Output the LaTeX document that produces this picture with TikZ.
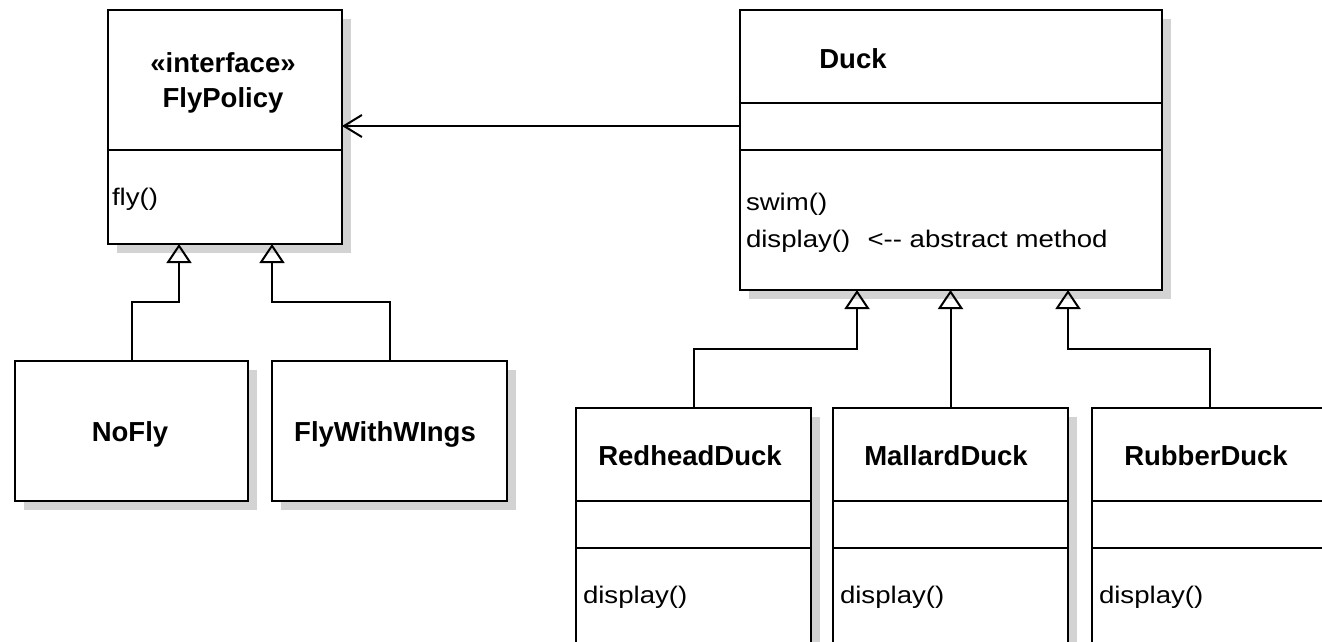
\documentclass[tikz,border=0pt]{standalone}
\usepackage{fontspec}
\setmainfont{Liberation Sans}
\usetikzlibrary{arrows.meta,shadows}
\definecolor{shadowgray}{HTML}{D3D3D3}
\begin{document}
\begin{tikzpicture}[x=1pt,y=-1pt,line width=2pt,
  classbox/.style={draw, fill=white, rectangle, anchor=north west, inner sep=0pt, outer sep=0pt,
    general shadow={fill=shadowgray, shadow xshift=9pt, shadow yshift=-9pt}},
  title/.style={font=\bfseries\fontsize{27.5}{33}\selectfont, anchor=base, inner sep=0pt},
  member/.style={font=\fontsize{24}{29}\selectfont, anchor=base west, inner sep=0pt},
  inherit/.style={-{Triangle[open, length=19pt, width=25pt]}},
  uses/.style={-{Straight Barb[length=18pt, width=22pt]}},
]
\useasboundingbox (0,0) rectangle (1322,642);
\clip (0,0) rectangle (1322,642);
\fill[white] (0,0) rectangle (1322,642);

% Strategy interface and its implementations
\node[classbox, minimum width=234pt, minimum height=234pt] (fp) at (108,10) {};
\draw (fp.west |- 0,150) -- (fp.east |- 0,150);
\node[title] (fpst) at (223,73) {«interface»};
\node[title] (fpn) at (223,107) {FlyPolicy};
\node[member] (fpop) at (111,205) {\scalebox{1.15}[1]{fly()}};

\node[classbox, minimum width=233pt, minimum height=140pt] (nf) at (15,361) {};
\node[title] (nfn) at (130,441) {NoFly};
\node[classbox, minimum width=235pt, minimum height=140pt] (fw) at (272,361) {};
\node[title] (fwn) at (385,441) {FlyWithWIngs};

% Abstract base class
\node[classbox, minimum width=422pt, minimum height=280pt] (dk) at (740,10) {};
\draw (dk.west |- 0,103) -- (dk.east |- 0,103);
\draw (dk.west |- 0,150) -- (dk.east |- 0,150);
\node[title] (dkn) at (853,68) {Duck};
\node[member] (dkop1) at (745,210) {\scalebox{1.15}[1]{swim()}};
\node[member] (dkop2) at (745,247) {\scalebox{1.15}[1]{display()\hspace{15pt}<-{}- abstract method}};

% Concrete subclasses
\foreach \nm/\lx/\cx/\txt in {rh/576/690/RedheadDuck, md/833/946/MallardDuck, rb/1092/1206/RubberDuck}{
  \node[classbox, minimum width=235pt, minimum height=300pt] (\nm) at (\lx,408) {};
  \draw (\nm.west |- 0,501) -- (\nm.east |- 0,501);
  \draw (\nm.west |- 0,548) -- (\nm.east |- 0,548);
  \node[title] (\nm n) at (\cx,465) {\txt};
  \node[member] (\nm op) at (\lx+6,603) {\scalebox{1.15}[1]{display()}};
}

% Association: Duck uses FlyPolicy
\draw[uses] (dk.west |- 0,126) -- (fp.east |- 0,126);

% Generalisations
\draw[inherit] (nf.north) -- ++(0,-59) -| (fp.south -| 179,0);
\draw[inherit] (fw.north) -- ++(0,-59) -| (fp.south -| 272,0);
\draw[inherit] (rh.north) -- ++(0,-59) -| (dk.south -| 857,0);
\draw[inherit] (md.north) -- (md.north |- dk.south);
\draw[inherit] (rb.north) -- ++(0,-59) -| (dk.south -| 1068,0);
\end{tikzpicture}
\end{document}
